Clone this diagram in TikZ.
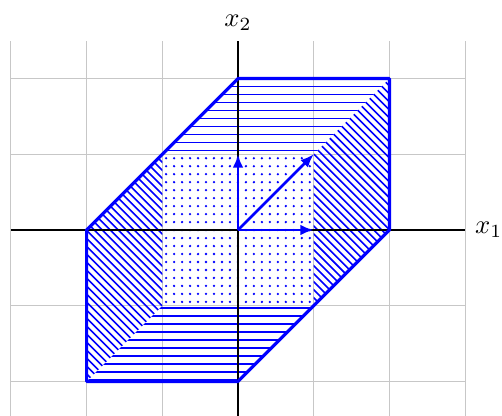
\documentclass[tikz,border=0pt]{standalone}
\usetikzlibrary{arrows.meta}
\begin{document}
\begin{tikzpicture}[
  gridline/.style={black!22, line width=0.4pt},
  axis/.style={black, thick},
  hexborder/.style={blue, very thick, line join=round},
  vec/.style={blue, line width=1pt, -{Latex[length=5pt,width=4pt]}},
  hatch/.style={blue, line width=0.6pt},
  dotmark/.style={blue}]
\useasboundingbox (-3.144,-2.444) rectangle (3.487,3.038);
\draw[gridline] (-3,-2.5) grid (3,2.5);
% vertices
\coordinate (O) at (0,0);
\coordinate (A) at (-2,0);
\coordinate (B) at (0,2);
\coordinate (C) at (2,2);
\coordinate (D) at (2,0);
\coordinate (E) at (0,-2);
\coordinate (F) at (-2,-2);
\coordinate (S1) at (1,1);
\coordinate (S2) at (-1,1);
\coordinate (S3) at (-1,-1);
\coordinate (S4) at (1,-1);
\coordinate (e1) at (1,0);
\coordinate (e2) at (0,1);
\def\sp{0.10545}
% dotted square
\foreach \i in {0,...,18} {
  \foreach \j in {0,...,18} {
    \fill[dotmark] ({-0.95+\i*\sp},{-0.95+\j*\sp}) circle (0.017);
  }
}
% horizontal hatch, top
\begin{scope}
  \clip (S2) -- (S1) -- (C) -- (B) -- cycle;
  \foreach \k in {0,...,9} { \draw[hatch] (-1.2,{2-\k*\sp}) -- (2.2,{2-\k*\sp}); }
\end{scope}
% horizontal hatch, bottom
\begin{scope}
  \clip (F) -- (E) -- (S4) -- (S3) -- cycle;
  \foreach \k in {0,...,9} { \draw[hatch] (-2.2,{-1.03-\k*\sp}) -- (1.2,{-1.03-\k*\sp}); }
\end{scope}
% diagonal hatch, right
\begin{scope}
  \clip (S4) -- (D) -- (C) -- (S1) -- cycle;
  \foreach \k in {0,...,38} { \draw[hatch] ({\k*\sp-3},3) -- ({\k*\sp+3},-3); }
\end{scope}
% diagonal hatch, left
\begin{scope}
  \clip (F) -- (S3) -- (S2) -- (A) -- cycle;
  \foreach \k in {0,...,38} { \draw[hatch] ({-\k*\sp-3},3) -- ({-\k*\sp+3},-3); }
\end{scope}
% axes
\coordinate (xl) at (-3,0);
\coordinate (xr) at (3,0);
\coordinate (yb) at (0,-2.5);
\coordinate (yt) at (0,2.5);
\draw[axis] (xl) -- (xr) node[right] (lx) {$x_1$};
\draw[axis] (yb) -- (yt) node[above] (ly) {$x_2$};
% hexagon
\draw[hexborder] (A) -- (B) -- (C) -- (D) -- (E) -- (F) -- cycle;
% vectors
\draw[vec] (O) -- (e1);
\draw[vec] (O) -- (e2);
\draw[vec] (O) -- (S1);
\end{tikzpicture}
\end{document}
